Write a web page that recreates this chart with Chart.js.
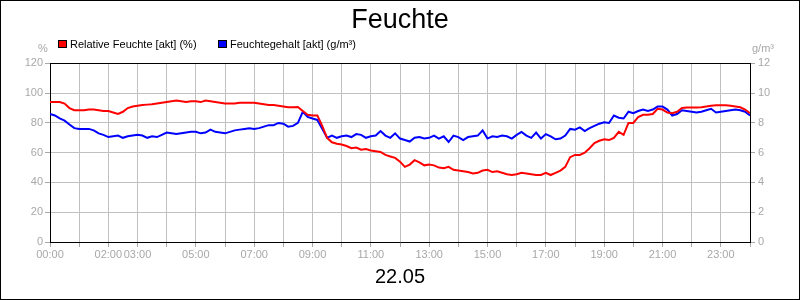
<!DOCTYPE html>
<html>
<head>
<meta charset="utf-8">
<title>Feuchte</title>
<script src="https://cdn.jsdelivr.net/npm/chart.js@4/dist/chart.umd.min.js"></script>
<style>
  body { margin: 0; background: #fff; }
  canvas { display: block; }
</style>
</head>
<body>
<canvas id="feuchteChart" width="800" height="300"></canvas>
<script>
// one value every 10 minutes, 00:00 .. 24:00
const stepMinutes = 10
const tickLabels = ["00:00", "02:00", "03:00", "05:00", "07:00", "09:00", "11:00",
  "13:00", "15:00", "17:00", "19:00", "21:00", "23:00"]

// Relative Feuchte [%]
const relFeuchte = [
  94, 94, 94, 93, 90, 88.5,
  88.5, 88.5, 89, 89, 88.5, 88,
  88, 87, 86, 87.5, 90, 91,
  91.5, 92, 92.3, 92.5, 93, 93.5,
  94, 94.5, 95, 94.5, 94, 94.5,
  94.5, 94, 95, 94.5, 94, 93.5,
  93, 93, 93, 93.5, 93.5, 93.5,
  93.5, 93, 92.5, 92, 92, 91.5,
  91, 90.5, 90.5, 90.7, 88, 85.5,
  85, 85, 78, 70, 67, 66,
  65.5, 64.5, 63, 63.5, 62, 62.5,
  61.5, 61, 60.5, 58.5, 57.5, 56.5,
  54, 50.5, 52, 55, 53.5, 51.5,
  52, 51.5, 50, 49.5, 50.5, 48.5,
  48, 47.5, 47, 46, 46.5, 48,
  48.5, 47, 47.5, 46.5, 45.5, 45,
  45.5, 46.5, 46, 45.5, 45, 45,
  46.5, 45, 46.5, 48, 50.5, 57,
  58.5, 58.5, 60, 63, 66.5, 68,
  69, 68.5, 70, 74, 72, 80,
  80, 84, 85.5, 85.5, 86, 89.5,
  89, 87, 86.5, 87.5, 90, 90.3,
  90.3, 90.3, 90.5, 91, 91.5, 91.8,
  91.8, 91.8, 91.5, 91, 90.5, 89,
  86.5
]

// Feuchtegehalt [g/m³]
const feuchteGehalt = [
  8.6, 8.5, 8.3, 8.15, 7.9, 7.65,
  7.6, 7.6, 7.6, 7.5, 7.3, 7.2,
  7.05, 7.1, 7.15, 7.0, 7.1, 7.15,
  7.2, 7.15, 7.0, 7.1, 7.05, 7.2,
  7.35, 7.3, 7.25, 7.3, 7.35, 7.4,
  7.4, 7.3, 7.35, 7.55, 7.4, 7.35,
  7.3, 7.4, 7.5, 7.55, 7.6, 7.65,
  7.6, 7.65, 7.75, 7.85, 7.85, 8.0,
  7.95, 7.75, 7.8, 8.0, 8.75, 8.4,
  8.3, 8.2, 7.6, 7.0, 7.15, 7.0,
  7.1, 7.15, 7.05, 7.25, 7.2, 7.0,
  7.1, 7.15, 7.45, 7.15, 7.0, 7.3,
  6.95, 6.85, 6.75, 7.0, 7.05, 6.95,
  7.0, 7.15, 6.95, 7.1, 6.72, 7.15,
  7.05, 6.85, 7.05, 7.1, 7.15, 7.5,
  6.95, 7.1, 7.05, 7.15, 7.1, 6.95,
  7.2, 7.4, 7.15, 7.0, 7.35, 6.95,
  7.25, 7.1, 6.9, 6.95, 7.15, 7.6,
  7.55, 7.7, 7.45, 7.65, 7.8, 7.95,
  8.05, 8.0, 8.5, 8.35, 8.3, 8.75,
  8.65, 8.8, 8.9, 8.8, 8.9, 9.1,
  9.1, 8.9, 8.5, 8.6, 8.85, 8.8,
  8.75, 8.7, 8.75, 8.85, 8.95, 8.7,
  8.75, 8.8, 8.85, 8.9, 8.85, 8.75,
  8.5
]

const toPoints = (arr) => arr.map((v, i) => ({ x: i * stepMinutes / 60, y: v }))

const gray = "#a8a8a8"
const gridGray = "#c0c0c0"

Chart.defaults.font.family = "Arial, 'Liberation Sans', sans-serif"
Chart.defaults.font.size = 11

// legend, units, frame
const extras = {
  id: "extras",
  afterDraw(chart) {
    const ctx = chart.ctx
    const a = chart.chartArea
    ctx.save()
    ctx.strokeStyle = "#000"
    ctx.lineWidth = 1
    ctx.beginPath()
    ctx.moveTo(Math.round(a.left), Math.round(a.top) + 0.5)
    ctx.lineTo(Math.round(a.right) + 1, Math.round(a.top) + 0.5)
    ctx.stroke()
    ctx.strokeRect(0.5, 0.5, 799, 299)

    const legendX = [58, 218]
    ctx.font = "11px Arial, 'Liberation Sans', sans-serif"
    ctx.textBaseline = "middle"
    chart.data.datasets.forEach((ds, i) => {
      ctx.fillStyle = ds.borderColor
      ctx.fillRect(legendX[i], 40, 9, 8)
      ctx.strokeStyle = "#000"
      ctx.strokeRect(legendX[i] + 0.5, 40.5, 8, 7)
      ctx.fillStyle = "#000"
      ctx.textAlign = "left"
      ctx.fillText(ds.label, legendX[i] + 12, 44.5)
    })

    ctx.fillStyle = gray
    ctx.textAlign = "center"
    ctx.fillText("%", 43, 49)
    ctx.fillText("g/m³", 763, 49)
    ctx.restore()
  }
}

new Chart(document.getElementById("feuchteChart"), {
  type: "line",
  data: {
    datasets: [
      {
        label: "Relative Feuchte [akt] (%)",
        data: toPoints(relFeuchte),
        borderColor: "#ff0000",
        borderWidth: 2,
        pointRadius: 0,
        yAxisID: "y",
      },
      {
        label: "Feuchtegehalt [akt] (g/m³)",
        data: toPoints(feuchteGehalt),
        borderColor: "#0000ff",
        borderWidth: 2,
        pointRadius: 0,
        yAxisID: "y2",
      },
    ],
  },
  options: {
    responsive: false,
    animation: false,
    devicePixelRatio: 1,
    layout: { padding: 0 },
    plugins: {
      legend: { display: false },
      tooltip: { enabled: false },
      title: {
        display: true,
        text: "Feuchte",
        color: "#000",
        font: { size: 27, weight: "normal" },
        padding: { top: 4, bottom: 27 },
      },
      subtitle: {
        display: true,
        position: "bottom",
        text: "22.05",
        color: "#000",
        font: { size: 20, weight: "normal" },
        padding: { top: 1, bottom: 11 },
      },
    },
    scales: {
      x: {
        type: "linear",
        min: 0,
        max: 24,
        afterFit: (s) => { s.height = 22 },
        ticks: {
          stepSize: 1,
          autoSkip: false,
          maxRotation: 0,
          color: gray,
          padding: 1,
          callback: (v) => {
            const s = String(v).padStart(2, "0") + ":00"
            return tickLabels.includes(s) ? s : ""
          },
        },
        grid: { color: gridGray, tickColor: gray, tickLength: 5 },
        border: { color: "#000", width: 1 },
      },
      y: {
        position: "left",
        min: 0,
        max: 120,
        afterFit: (s) => { s.width = 50 },
        ticks: { stepSize: 20, color: gray, padding: 2 },
        grid: { color: gridGray, tickColor: gray, tickLength: 5 },
        border: { color: "#000", width: 1 },
      },
      y2: {
        position: "right",
        min: 0,
        max: 12,
        afterFit: (s) => { s.width = 50 },
        ticks: { stepSize: 2, color: gray, padding: 3 },
        grid: { drawOnChartArea: false, tickColor: gray, tickLength: 5 },
        border: { color: "#000", width: 1 },
      },
    },
  },
  plugins: [extras],
})
</script>
</body>
</html>
